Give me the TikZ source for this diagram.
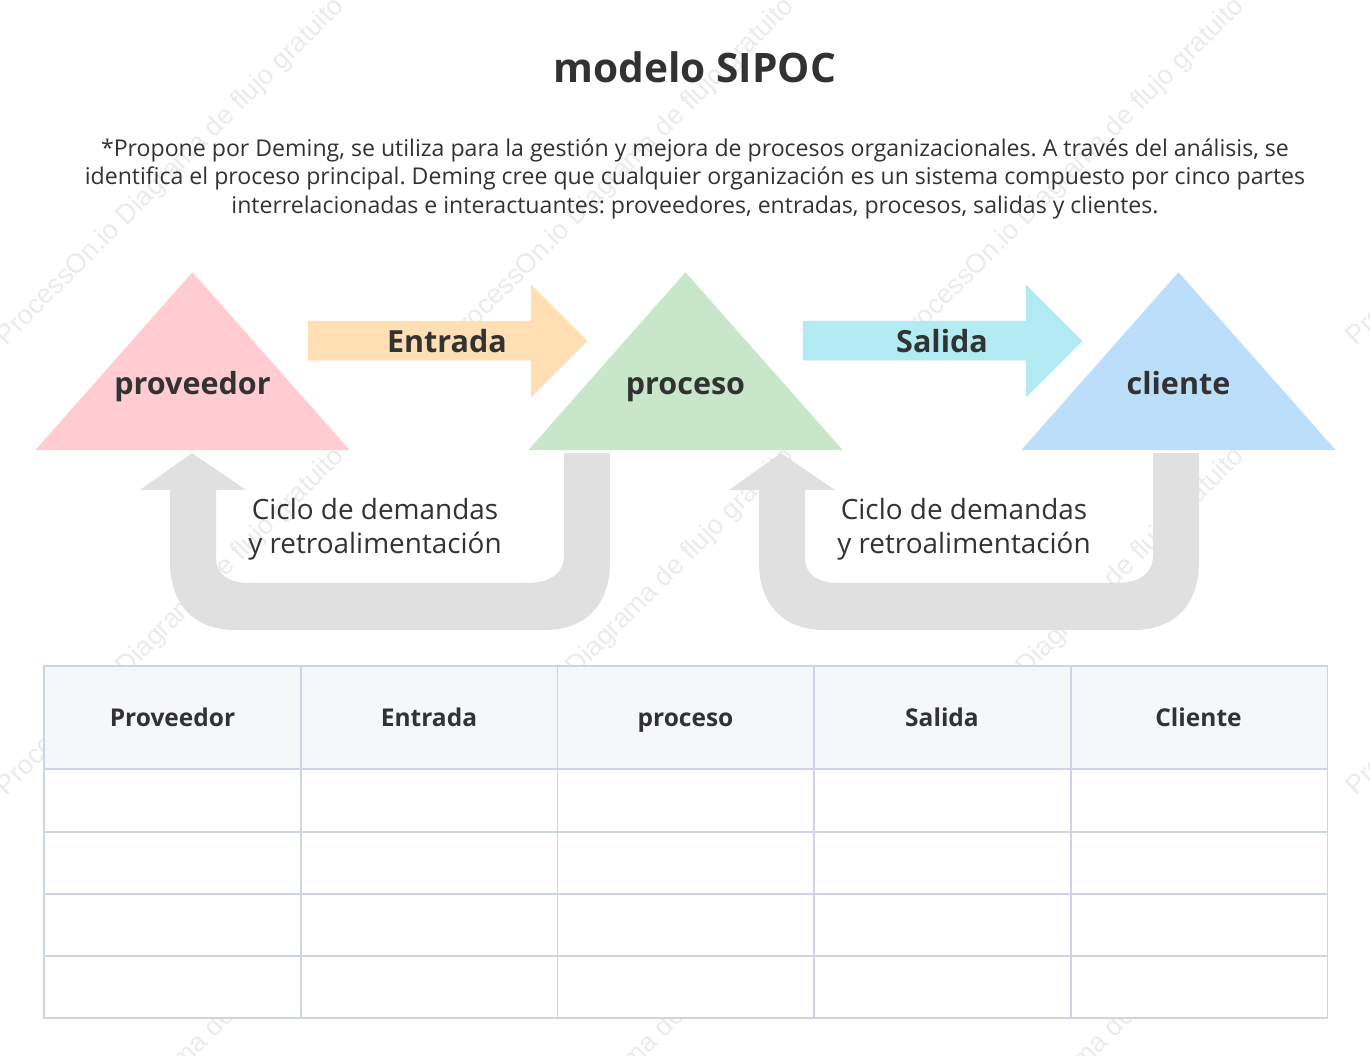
\documentclass[tikz,border=0pt]{standalone}
\usepackage{fontspec}
\setmainfont{Open Sans}
\newfontfamily\wmfont{Liberation Sans}
\frenchspacing
\definecolor{inkgrey}{HTML}{323232}
\definecolor{markgrey}{HTML}{EBEBEB}
\definecolor{loopgrey}{HTML}{E0E0E0}
\definecolor{gridblue}{HTML}{CED4E8}
\definecolor{headblue}{HTML}{F5F7FB}
\definecolor{provpink}{HTML}{FFCCD2}
\definecolor{inorange}{HTML}{FFDFB3}
\definecolor{procgreen}{HTML}{C8E6C9}
\definecolor{outcyan}{HTML}{B2EBF2}
\definecolor{clientblue}{HTML}{BBDEFB}
\tikzset{
	every node/.style={text=inkgrey, inner sep=0pt},
	shapelabel/.style={anchor=base, font=\fontsize{30.5}{34}\selectfont\bfseries},
	looplabel/.style={font=\fontsize{27.9}{34}\selectfont, align=center},
	headlabel/.style={anchor=base, font=\fontsize{24.5}{28}\selectfont\bfseries},
	textline/.style={anchor=base, font=\fontsize{23.1}{28}\selectfont},
	watermark/.style={text=markgrey, rotate=45, font=\wmfont\fontsize{27}{30}\selectfont}
}
\begin{document}
\begin{tikzpicture}[x=1pt,y=-1pt]
		\useasboundingbox (0,0) rectangle (1370,1055);
		% watermark
		\begin{scope}
			\clip (0,0) rectangle (1370,1055);
			\foreach \x in {0,450,900,1350}
			\foreach \y in {0,450,900}
			{
				\node[watermark] (mark\x-\y) at (\x+171,\y+172) {ProcessOn.io Diagrama de flujo gratuito};
			}
		\end{scope}
		% title and notes
		\node[anchor=base, font=\fontsize{40.6}{44}\selectfont\bfseries] (title) at (695,82) {modelo SIPOC};
		\node[textline] (noteA) at (695,156) {*Propone por Deming, se utiliza para la gestión y mejora de procesos organizacionales. A través del análisis, se};
		\node[textline] (noteB) at (695,184.5) {identifica el proceso principal. Deming cree que cualquier organización es un sistema compuesto por cinco partes};
		\node[textline] (noteC) at (695,213) {interrelacionadas e interactuantes: proveedores, entradas, procesos, salidas y clientes.};
		% triangles
		\foreach \x/\c/\t in {192.5/provpink/proveedor,685.5/procgreen/proceso,1178.5/clientblue/cliente}
		{
			\fill[\c, draw=\c, line join=round, line width=1pt] (\x,273) -- (\x+156,449.5) -- (\x-156,449.5) -- cycle;
			\node[shapelabel] (\t) at (\x,394) {\t};
		}
		% block arrows
		\foreach \x/\c/\t in {0/inorange/Entrada,495/outcyan/Salida}
		{
			\fill[\c, draw=\c, line join=round, line width=0.5pt] (\x+308,321) -- (\x+531,321) -- (\x+531,285) -- (\x+587,341) -- (\x+531,397) -- (\x+531,360) -- (\x+308,360) -- cycle;
			\node[shapelabel] (\t) at (\x+447,352) {\t};
		}
		% feedback loops
		\foreach \x in {0,589}
		{
			\fill[loopgrey] (\x+192,453) -- (\x+246,490) -- (\x+216,490) -- (\x+216,558)
				.. controls (\x+216,574) and (\x+228,583) .. (\x+250,583) -- (\x+525,583)
				.. controls (\x+550,583) and (\x+564,574) .. (\x+564,555) -- (\x+564,453) -- (\x+610,453) -- (\x+610,562)
				.. controls (\x+610,605) and (\x+585,630) .. (\x+545,630) -- (\x+235,630)
				.. controls (\x+195,630) and (\x+170,605) .. (\x+170,562) -- (\x+170,490) -- (\x+140,490) -- cycle;
			\node[looplabel] (loop\x) at (\x+375,529) {Ciclo de demandas\\y retroalimentación};
		}
		% table
		\fill[white] (44,769) rectangle (1327.5,1018);
		\fill[headblue] (44,666) rectangle (1327.5,769);
		\foreach \y in {769,832,894,956}
		{
			\draw[gridblue, line width=1.2pt] (44,\y) -- (1327.5,\y);
		}
		\foreach \x in {301,557.5,814,1071}
		{
			\draw[gridblue, line width=1.2pt] (\x,666) -- (\x,1018);
		}
		\draw[gridblue, line width=1.5pt] (44,666) rectangle (1327.5,1018);
		% table heads
		\foreach \x/\t in {172.5/Proveedor,429/Entrada,685.5/proceso,942/Salida,1198.5/Cliente}
		{
			\node[headlabel] (head\t) at (\x,726) {\t};
		}
	\end{tikzpicture}
\end{document}
